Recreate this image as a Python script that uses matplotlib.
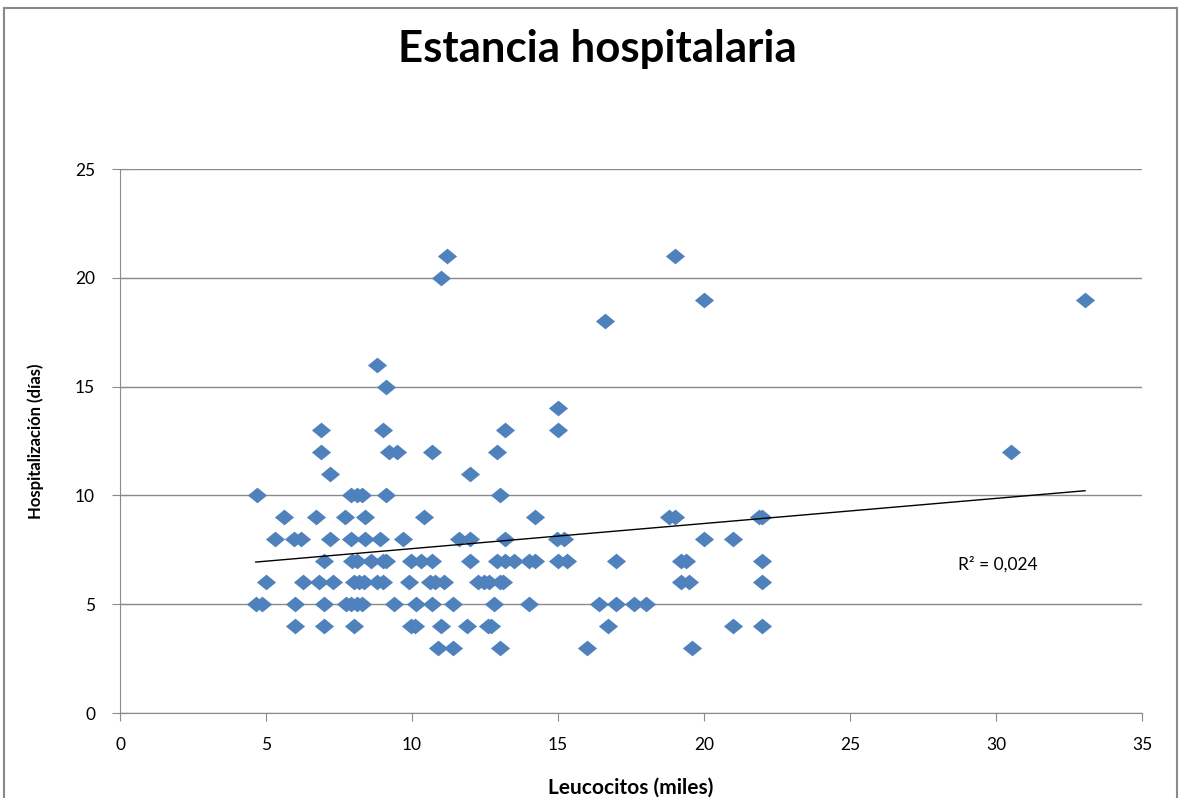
import numpy as np
import matplotlib.pyplot as plt
from matplotlib.path import Path
from matplotlib.lines import Line2D

# Leucocitos (miles) and days of stay
leucocitos = [
    11.2, 19.0,
    11.0,
    20.0, 33.05,
    16.6,
    8.8,
    9.1,
    15.0,
    6.9, 9.0, 13.2, 15.0,
    6.9, 9.2, 9.5, 10.7, 12.9, 30.5,
    7.2, 12.0,
    4.7, 7.9, 8.1, 8.3, 9.1, 13.0,
    5.6, 6.7, 7.7, 8.4, 10.4, 14.2, 18.8, 19.0, 21.9, 22.0,
    5.3, 5.95, 6.2, 7.2, 7.9, 8.4, 8.9, 9.7, 11.6, 12.0, 13.2, 14.95, 15.2, 20.0, 21.0,
    7.0, 7.95, 8.1, 8.6, 9.0, 9.1, 9.95, 10.3, 10.7, 12.0, 12.9, 13.2, 13.5, 14.0, 14.2,
    15.0, 15.3, 17.0, 19.2, 19.4, 22.0,
    5.0, 6.25, 6.8, 7.3, 8.0, 8.2, 8.35, 8.8, 9.0, 9.9, 10.6, 10.8, 11.1, 12.25, 12.45,
    12.65, 13.0, 13.1, 19.2, 19.5, 22.0,
    4.65, 4.85, 6.0, 7.0, 7.75, 7.9, 8.1, 8.3, 9.4, 10.15, 10.7, 11.4, 12.8, 14.0, 16.4,
    17.0, 17.6, 18.0,
    6.0, 7.0, 8.0, 9.95, 10.1, 11.0, 11.9, 12.6, 12.7, 16.7, 21.0, 22.0,
    10.9, 11.4, 13.0, 16.0, 19.6,
]
dias = (
    [21] * 2 + [20] * 1 + [19] * 2 + [18] * 1 + [16] * 1 + [15] * 1 + [14] * 1
    + [13] * 4 + [12] * 6 + [11] * 2 + [10] * 6 + [9] * 10 + [8] * 15
    + [7] * 21 + [6] * 21 + [5] * 18 + [4] * 12 + [3] * 5
)

x_ticks = [0, 5, 10, 15, 20, 25, 30, 35]
y_ticks = [0, 5, 10, 15, 20, 25]
r2_label = "R² = 0,024"

plt.rcParams['font.family'] = ['Lato', 'DejaVu Sans']

fig = plt.figure(figsize=(11.82, 7.98), dpi=100)
ax = fig.add_axes([120 / 1182, 1 - 713 / 798, 1022 / 1182, 544 / 798])

# wide diamond marker like the Excel one
diamond = Path([(-1, 0), (0, 0.82), (1, 0), (0, -0.82), (-1, 0)],
               [Path.MOVETO, Path.LINETO, Path.LINETO, Path.LINETO, Path.CLOSEPOLY])
ax.scatter(leucocitos, dias, marker=diamond, s=190, color="#4F81BD",
           linewidths=0, zorder=3)

# linear trendline
x = np.array(leucocitos)
y = np.array(dias)
m, b = np.polyfit(x, y, 1)
xs = np.array([x.min(), x.max()])
ax.plot(xs, m * xs + b, color="black", linewidth=1, zorder=4)

ax.set_xlim(0, 35)
ax.set_ylim(0, 25)
ax.set_xticks(x_ticks)
ax.set_yticks(y_ticks)
ax.yaxis.grid(True, color="#8a8a8a", linewidth=1)
ax.set_axisbelow(True)

for s in ["top", "right"]:
    ax.spines[s].set_visible(False)
for s in ["left", "bottom"]:
    ax.spines[s].set_color("#8a8a8a")
ax.tick_params(axis="x", direction="out", length=6, color="#8a8a8a",
               labelsize=12.5, pad=11)
ax.tick_params(axis="y", direction="inout", length=12, color="#8a8a8a",
               labelsize=12.5, pad=12)

ax.set_xlabel("Leucocitos (miles)", fontsize=15, fontweight="bold", labelpad=18)
ax.set_ylabel("Hospitalización (días)", fontsize=12, fontweight="bold", labelpad=22)

fig.text(597 / 1182, 1 - 49 / 798, "Estancia hospitalaria", ha="center",
         va="center", fontsize=31.5, fontweight="bold")
ax.text(28.7, 6.85, r2_label, fontsize=12.5, va="center")

# outer chart border
fig.add_artist(Line2D([4 / 1182, 4 / 1182], [0, 1 - 8 / 798],
                      transform=fig.transFigure, color="#8a8a8a", linewidth=1.5))
fig.add_artist(Line2D([4 / 1182, 1177 / 1182], [1 - 8 / 798, 1 - 8 / 798],
                      transform=fig.transFigure, color="#8a8a8a", linewidth=1.5))
fig.add_artist(Line2D([1177 / 1182, 1177 / 1182], [0, 1 - 8 / 798],
                      transform=fig.transFigure, color="#8a8a8a", linewidth=1.5))

fig.savefig("out.png", dpi=100)
plt.close(fig)
